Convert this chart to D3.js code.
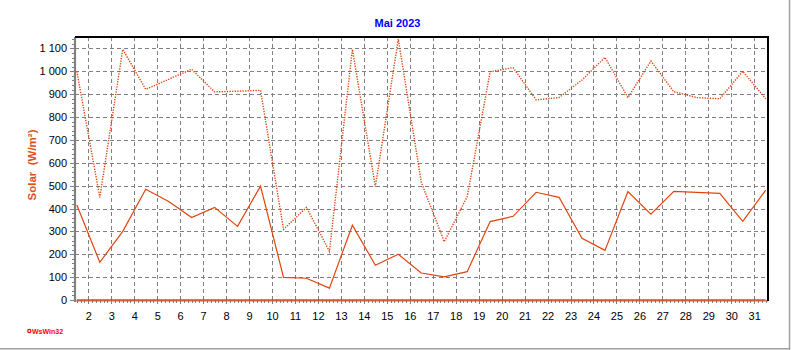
<!DOCTYPE html>
<html><head><meta charset="utf-8">
<script src="https://cdn.jsdelivr.net/npm/d3@7"></script>
<style>
body{margin:0;background:#fff;}
text{font-family:Arial,"Liberation Sans",sans-serif;}
</style>
</head><body>
<svg id="c" width="792" height="350"></svg>
<script>
// ---- data ----
const days = [1,2,3,4,5,6,7,8,9,10,11,12,13,14,15,16,17,18,19,20,21,22,23,24,25,26,27,28,29,30,31];
const xTickLabels = [2,3,4,5,6,7,8,9,10,11,12,13,14,15,16,17,18,19,20,21,22,23,24,25,26,27,28,29,30,31];
const yTickValues = [0,100,200,300,400,500,600,700,800,900,1000,1100];
const avgSolar = [415,165,300,484,431,361,405,322,498,99,95,52,327,152,200,118,101,124,343,366,471,449,270,217,474,375,475,471,466,344,480];
const maxSolar = [1000,449,1096,921,965,1009,910,913,917,309,405,213,1096,496,1141,515,255,452,998,1016,875,885,962,1061,885,1045,911,885,880,1000,880];
const minSolar = [0,0,0,0,0,0,0,0,0,0,0,0,0,0,0,0,0,0,0,0,0,0,0,0,0,0,0,0,0,0,0];
const title = "Mai 2023";
const yLabel = "Solar  (W/m²)";

// ---- layout ----
const L = 75, R = 768, T = 37, B = 300;
const lineColor = "#e0440e";
const gridColor = "#808080";

const svg = d3.select("#c");
const x = d3.scaleLinear().domain([1.42, 31.6]).range([L, R]);
const y = d3.scaleLinear().domain([0, 1150]).range([B, T]);
const loc = d3.formatLocale({decimal:",", thousands:" ", grouping:[3], currency:["",""]});
const fmt = loc.format(",");

// outer frame (right & bottom grey edges)
svg.append("line").attr("x1",789.5).attr("x2",789.5).attr("y1",0).attr("y2",350).attr("stroke","#a0a0a0").attr("stroke-width",1.5);
svg.append("line").attr("x1",0).attr("x2",790).attr("y1",348.8).attr("y2",348.8).attr("stroke","#a0a0a0").attr("stroke-width",1.5);

// grid
const grid = svg.append("g").attr("shape-rendering","crispEdges");
grid.selectAll("line.v").data(xTickLabels).join("line")
  .attr("x1",d=>Math.round(x(d))+0.5).attr("x2",d=>Math.round(x(d))+0.5)
  .attr("y1",T).attr("y2",B)
  .attr("stroke",gridColor).attr("stroke-dasharray","4,3");
grid.selectAll("line.h").data(yTickValues.filter(v=>v>0)).join("line")
  .attr("x1",L).attr("x2",R)
  .attr("y1",d=>Math.round(y(d))+0.5).attr("y2",d=>Math.round(y(d))+0.5)
  .attr("stroke",gridColor).attr("stroke-dasharray","4,3");

// y axis
const yAxis = svg.append("g").attr("transform",`translate(${L},0)`)
  .call(d3.axisLeft(y).tickValues(yTickValues).tickSize(5).tickPadding(3).tickFormat(fmt));
const yMinor = svg.append("g").attr("transform",`translate(${L},0)`)
  .call(d3.axisLeft(y).tickValues(d3.range(0,1141,20)).tickSize(3).tickFormat(""));
[yAxis,yMinor].forEach(g=>{
  g.select(".domain").remove();
  g.selectAll("line").attr("stroke",gridColor).attr("shape-rendering","crispEdges");
});
yAxis.selectAll("text").attr("font-size",11).attr("fill","#000");

// x axis
const minorX = [];
days.forEach(d=>{ for(let k=0;k<6;k++){ const v=d+k/6; if(v>=1.42 && v<=31.6) minorX.push(v);} });
const xAxis = svg.append("g").attr("transform",`translate(0,${B})`)
  .call(d3.axisBottom(x).tickValues(xTickLabels).tickSize(4).tickPadding(8).tickFormat(d3.format("d")));
const xMinor = svg.append("g").attr("transform",`translate(0,${B})`)
  .call(d3.axisBottom(x).tickValues(minorX).tickSize(3).tickFormat(""));
[xAxis,xMinor].forEach(g=>{
  g.select(".domain").remove();
  g.selectAll("line").attr("stroke",gridColor).attr("shape-rendering","crispEdges");
});
xAxis.selectAll("text").attr("font-size",11).attr("fill","#000");

// axis lines & frame
svg.append("line").attr("x1",L).attr("x2",R).attr("y1",B+1).attr("y2",B+1).attr("stroke",gridColor).attr("stroke-width",1);
svg.append("line").attr("x1",L).attr("x2",L).attr("y1",T).attr("y2",B+2).attr("stroke",gridColor).attr("stroke-width",2.2);
svg.append("line").attr("x1",L).attr("x2",R+1).attr("y1",T).attr("y2",T).attr("stroke","#000").attr("stroke-width",2);
svg.append("line").attr("x1",R).attr("x2",R).attr("y1",T-1).attr("y2",B+1).attr("stroke","#000").attr("stroke-width",2);

// clip
svg.append("clipPath").attr("id","clip").append("rect").attr("x",L).attr("y",T).attr("width",R-L).attr("height",B-T+2);
const plot = svg.append("g").attr("clip-path","url(#clip)");
const line = d3.line().x((d,i)=>x(days[i]+0.5)).y(d=>y(d));

plot.append("path").datum(minSolar).attr("d",line).attr("fill","none")
  .attr("stroke",lineColor).attr("stroke-width",1.6);
plot.append("path").datum(maxSolar).attr("d",line).attr("fill","none")
  .attr("stroke",lineColor).attr("stroke-width",1.4).attr("stroke-dasharray","1.3,1.3");
plot.append("path").datum(avgSolar).attr("d",line).attr("fill","none")
  .attr("stroke",lineColor).attr("stroke-width",1.2);

// title
svg.append("text").attr("x",397.5).attr("y",27).attr("text-anchor","middle")
  .attr("font-size",11).attr("font-weight","bold").attr("fill","#0000ff").text(title);

// y label
svg.append("text").attr("transform","translate(36,165) rotate(-90)")
  .attr("text-anchor","middle").attr("font-size",11.5).attr("font-weight","bold")
  .attr("fill","#e0501a").style("white-space","pre").text(yLabel);

// WsWin32 mark
svg.append("circle").attr("cx",29.3).attr("cy",331).attr("r",1.6).attr("fill","none").attr("stroke","#ff0000").attr("stroke-width",1.2);
svg.append("text").attr("x",32).attr("y",333.5).attr("font-size",7).attr("font-weight","bold")
  .attr("fill","#ff0000").text("WsWin32");
</script>
</body></html>
